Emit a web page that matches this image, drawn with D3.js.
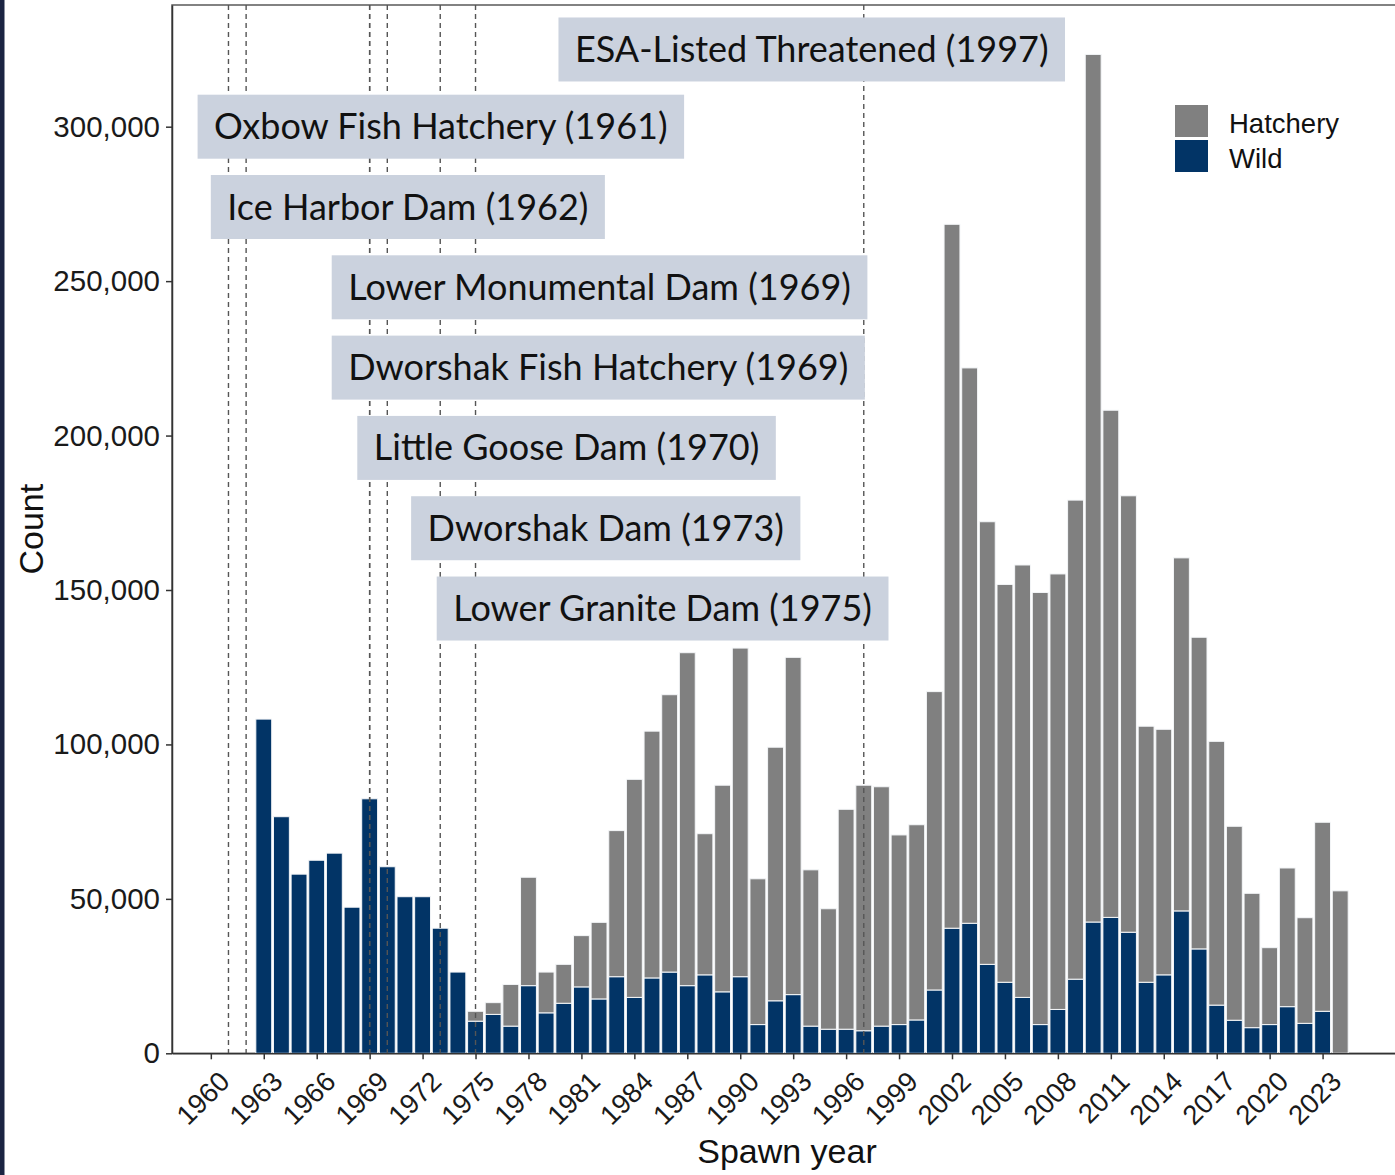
<!DOCTYPE html>
<html>
<head>
  <title>Spawn year counts</title>
  <script src="https://d3js.org/d3.v7.min.js"></script>
  <style>
    body { margin: 0; background: #fff; }
    svg { display: block; }
  </style>
</head>
<body>

  <div id="chart"></div>
  <script type="text/javascript">

  // spawn years with bars
  var years = d3.range(1963, 2025);

  var wild = [108200, 76600, 58000, 62500, 64800, 47300, 82400, 60400, 50700, 50700,
              40500, 26300, 10400, 12600, 8800, 21900, 13100, 16200, 21500, 17600,
              24800, 18100, 24400, 26300, 21900, 25400, 19900, 24800, 9300, 17000,
              19000, 8800, 7800, 7800, 7300, 8800, 9300, 10800, 20500, 40500,
              42100, 28800, 23000, 18100, 9300, 14200, 24000, 42500, 44000, 39200,
              23000, 25400, 46100, 33800, 15600, 10700, 8300, 9300, 15100, 9700,
              13600, 0];

  var hatchery = [0, 0, 0, 0, 0, 0, 0, 0, 0, 0,
                  0, 0, 3200, 3800, 13500, 35100, 13200, 12600, 16600, 24800,
                  47300, 70600, 79900, 89800, 107800, 45700, 66900, 106400, 47200, 82100,
                  109200, 50600, 39000, 71200, 79500, 77500, 61400, 63200, 96600, 227900,
                  179800, 143300, 128800, 140000, 139900, 141000, 155100, 280900, 164200, 141300,
                  82900, 79500, 114300, 100900, 85400, 62800, 43500, 24900, 44900, 34200,
                  61200, 52600];

  var yTicks = [0, 50000, 100000, 150000, 200000, 250000, 300000];
  var xTicks = d3.range(1960, 2024, 3);

  var eventNames = ["Oxbow Fish Hatchery (1961)", "Ice Harbor Dam (1962)",
                    "Lower Monumental Dam (1969)", "Dworshak Fish Hatchery (1969)",
                    "Little Goose Dam (1970)", "Dworshak Dam (1973)",
                    "Lower Granite Dam (1975)", "ESA-Listed Threatened (1997)"];
  var eventYears = [1961, 1962, 1969, 1969, 1970, 1973, 1975, 1997];

  // where the label boxes sit (left edge in years, centre in counts)
  var labelLeft = [1959.25, 1960.0, 1966.85, 1966.85, 1968.3, 1971.35, 1972.8, 1979.7];
  var labelLevel = [300000, 274000, 248000, 222000, 196000, 170000, 144000, 325000];

  var seriesNames = ["Hatchery", "Wild"];
  var seriesColors = {"Hatchery": "#808080", "Wild": "#023466"};

  var W = 1395, H = 1175;
  var pL = 172, pT = 5, pR = 1402, pB = 1053.3;
  var axisFont = "'Liberation Sans', Arial, sans-serif";

  var svg = d3.select("#chart").append("svg").attr("width", W).attr("height", H);
  svg.append("rect").attr("width", W).attr("height", H).attr("fill", "#fff");
  svg.append("rect").attr("x", 0).attr("y", 0).attr("width", 4.5).attr("height", H).attr("fill", "#1b2442");

  var x = d3.scaleLinear().domain([1957.8, 2027.5]).range([pL, pR]);
  var y = d3.scaleLinear().domain([0, 339400]).range([pB, pT]);
  var step = x(1) - x(0);
  var barW = step * 0.9;

  var rows = years.map(function(yr, i){ return {year: yr, Wild: wild[i], Hatchery: hatchery[i]}; });
  var stacked = d3.stack().keys(["Wild", "Hatchery"])(rows);

  // panel border (top/right run off the picture)
  svg.append("rect").attr("x", pL).attr("y", pT).attr("width", pR - pL).attr("height", pB - pT)
    .attr("fill", "none").attr("stroke", "#5a5a5a").attr("stroke-width", 1.5);

  var bars = svg.append("g");
  stacked.forEach(function(s){
    bars.selectAll(null).data(s.filter(function(d){ return d[1] > d[0]; })).enter().append("rect")
      .attr("x", function(d){ return x(d.data.year) - barW/2; })
      .attr("width", barW)
      .attr("y", function(d){ return y(d[1]); })
      .attr("height", function(d){ return y(d[0]) - y(d[1]); })
      .attr("fill", seriesColors[s.key])
      .attr("stroke", "#f4f6f8")
      .attr("stroke-width", 1);
  });

  // event lines
  svg.append("g").selectAll("line").data(eventYears).enter().append("line")
    .attr("x1", function(d){ return x(d); }).attr("x2", function(d){ return x(d); })
    .attr("y1", pT).attr("y2", pB)
    .attr("stroke", "#555").attr("stroke-width", 1.4).attr("stroke-dasharray", "5,4");

  // axes
  var yAxis = svg.append("g").attr("transform", "translate(" + pL + ",0)")
    .call(d3.axisLeft(y).tickValues(yTicks).tickFormat(d3.format(",")).tickSize(6).tickSizeOuter(0).tickPadding(6));
  yAxis.select(".domain").attr("stroke", "#333").attr("stroke-width", 1.5);
  yAxis.selectAll(".tick line").attr("stroke", "#333").attr("stroke-width", 1.5);
  yAxis.selectAll("text").attr("font-family", axisFont)
    .attr("font-size", 29.5).attr("fill", "#1a1a1a");

  var xAxis = svg.append("g").attr("transform", "translate(0," + pB + ")")
    .call(d3.axisBottom(x).tickValues(xTicks).tickFormat(d3.format("d")).tickSize(6).tickSizeOuter(0));
  xAxis.select(".domain").attr("stroke", "#333").attr("stroke-width", 1.5);
  xAxis.selectAll(".tick line").attr("stroke", "#333").attr("stroke-width", 1.5);
  xAxis.selectAll("text").attr("font-family", axisFont)
    .attr("font-size", 27.5).attr("fill", "#1a1a1a")
    .attr("x", 0).attr("y", 0).attr("dy", 0)
    .attr("text-anchor", "end")
    .attr("transform", "translate(20,30) rotate(-45)");

  svg.append("text").text("Count")
    .attr("transform", "translate(43," + (pT + pB)/2 + ") rotate(-90)")
    .attr("text-anchor", "middle").attr("font-family", axisFont)
    .attr("font-size", 34).attr("fill", "#111");
  svg.append("text").text("Spawn year")
    .attr("x", (pL + pR)/2).attr("y", 1163)
    .attr("text-anchor", "middle").attr("font-family", axisFont)
    .attr("font-size", 34).attr("fill", "#111");

  // event labels
  var labs = svg.append("g").selectAll("g").data(eventNames).enter().append("g")
    .attr("transform", function(d, i){ return "translate(" + x(labelLeft[i]) + "," + y(labelLevel[i]) + ")"; });
  var boxes = labs.append("rect").attr("y", -32).attr("height", 64).attr("fill", "#cbd2de");
  var texts = labs.append("text").text(function(d){ return d; })
    .attr("x", 16.5).attr("y", 12.5)
    .attr("font-family", "Lato, 'Open Sans', sans-serif").attr("font-size", 36).attr("fill", "#111");
  texts.each(function(d, i){
    var w = this.getComputedTextLength();
    d3.select(boxes.nodes()[i]).attr("width", w + 33);
  });

  // legend
  var legend = svg.append("g").attr("transform", "translate(1175,105)");
  seriesNames.forEach(function(name, i){
    legend.append("rect").attr("x", 0).attr("y", i*35).attr("width", 33).attr("height", 32)
      .attr("fill", seriesColors[name]);
    legend.append("text").text(name).attr("x", 54).attr("y", i*35 + 28)
      .attr("font-family", axisFont).attr("font-size", 27.5).attr("fill", "#111");
  });

  </script>

</body>
</html>
